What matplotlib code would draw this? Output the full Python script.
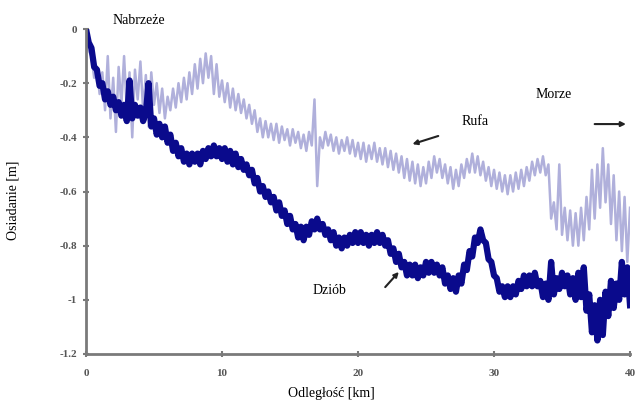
import matplotlib
matplotlib.use("Agg")
import matplotlib.pyplot as plt
import numpy as np

# distance [km], sampled every 0.2 km
distance_km = [round(i * 0.2, 1) for i in range(201)]

# Dziób (bow) settlement [m]
dziob = [
    0.00, -0.05, -0.07, -0.14, -0.15, -0.21, -0.20, -0.26, -0.23, -0.28,
    -0.25, -0.30, -0.27, -0.32, -0.28, -0.34, -0.19, -0.33, -0.28, -0.32,
    -0.29, -0.34, -0.31, -0.20, -0.36, -0.33, -0.39, -0.35, -0.40, -0.36,
    -0.42, -0.39, -0.45, -0.42, -0.47, -0.44, -0.49, -0.46, -0.50, -0.46,
    -0.49, -0.46, -0.50, -0.45, -0.48, -0.44, -0.47, -0.43, -0.47, -0.44,
    -0.48, -0.44, -0.49, -0.45, -0.50, -0.46, -0.51, -0.48, -0.52, -0.50,
    -0.54, -0.52, -0.57, -0.55, -0.60, -0.58, -0.62, -0.60, -0.64, -0.62,
    -0.67, -0.64, -0.69, -0.67, -0.72, -0.69, -0.74, -0.72, -0.77, -0.73,
    -0.78, -0.73, -0.76, -0.71, -0.74, -0.70, -0.74, -0.72, -0.76, -0.74,
    -0.78, -0.75, -0.80, -0.77, -0.81, -0.77, -0.80, -0.76, -0.79, -0.75,
    -0.79, -0.75, -0.79, -0.76, -0.80, -0.76, -0.79, -0.75, -0.79, -0.76,
    -0.80, -0.78, -0.83, -0.81, -0.86, -0.83, -0.88, -0.86, -0.91, -0.87,
    -0.91, -0.87, -0.92, -0.88, -0.91, -0.86, -0.90, -0.86, -0.90, -0.87,
    -0.91, -0.88, -0.94, -0.91, -0.96, -0.92, -0.97, -0.91, -0.94, -0.87,
    -0.89, -0.82, -0.84, -0.77, -0.79, -0.74, -0.78, -0.79, -0.85, -0.86,
    -0.91, -0.92, -0.97, -0.95, -0.99, -0.95, -0.99, -0.95, -0.98, -0.93,
    -0.96, -0.91, -0.95, -0.91, -0.95, -0.90, -0.95, -0.93, -0.99, -0.94,
    -1.00, -0.86, -0.98, -0.92, -0.96, -0.90, -0.95, -0.91, -0.98, -0.92,
    -1.00, -0.90, -0.99, -0.88, -1.04, -0.98, -1.12, -1.02, -1.15, -1.00,
    -1.13, -0.97, -1.06, -0.93, -1.03, -0.94, -1.00, -0.86, -0.98, -0.88,
    -1.02,
]

# Rufa (stern) settlement [m]
rufa = [
    0.00, -0.08, -0.10, -0.18, -0.14, -0.24, -0.16, -0.30, -0.10, -0.33,
    -0.18, -0.38, -0.14, -0.28, -0.10, -0.30, -0.16, -0.40, -0.15, -0.26,
    -0.12, -0.30, -0.17, -0.36, -0.16, -0.28, -0.20, -0.31, -0.22, -0.33,
    -0.25, -0.30, -0.22, -0.29, -0.20, -0.27, -0.18, -0.26, -0.16, -0.24,
    -0.13, -0.22, -0.11, -0.20, -0.09, -0.18, -0.10, -0.24, -0.13, -0.25,
    -0.19, -0.27, -0.20, -0.29, -0.22, -0.30, -0.24, -0.31, -0.26, -0.33,
    -0.28, -0.35, -0.30, -0.38, -0.33, -0.40, -0.34, -0.40, -0.35, -0.41,
    -0.35, -0.42, -0.36, -0.41, -0.37, -0.43, -0.37, -0.42, -0.38, -0.44,
    -0.39, -0.45, -0.38, -0.43, -0.26, -0.58, -0.40, -0.44, -0.38, -0.43,
    -0.39, -0.45, -0.40, -0.46, -0.41, -0.45, -0.40, -0.46, -0.41, -0.47,
    -0.42, -0.48, -0.42, -0.49, -0.43, -0.48, -0.42, -0.49, -0.44, -0.50,
    -0.44, -0.51, -0.45, -0.52, -0.46, -0.53, -0.47, -0.55, -0.48, -0.56,
    -0.49, -0.57, -0.50, -0.58, -0.51, -0.57, -0.49, -0.55, -0.47, -0.53,
    -0.48, -0.55, -0.50, -0.57, -0.51, -0.59, -0.52, -0.58, -0.50, -0.55,
    -0.48, -0.53, -0.46, -0.53, -0.47, -0.54, -0.49, -0.56, -0.51, -0.58,
    -0.52, -0.59, -0.53, -0.60, -0.54, -0.61, -0.54, -0.60, -0.53, -0.59,
    -0.52, -0.58, -0.51, -0.56, -0.49, -0.54, -0.48, -0.53, -0.47, -0.54,
    -0.50, -0.70, -0.64, -0.74, -0.50, -0.76, -0.66, -0.78, -0.67, -0.80,
    -0.68, -0.80, -0.66, -0.78, -0.62, -0.74, -0.52, -0.70, -0.50, -0.66,
    -0.44, -0.64, -0.50, -0.72, -0.54, -0.78, -0.60, -0.82, -0.62, -0.86,
    -0.66,
]

x_ticks = [0, 10, 20, 30, 40]
y_ticks = [0, -0.2, -0.4, -0.6, -0.8, -1.0, -1.2]
y_tick_labels = ["0", "-0.2", "-0.4", "-0.6", "-0.8", "-1", "-1.2"]

serif = ["Liberation Serif", "DejaVu Serif"]
axis_grey = "#7a7a7a"

fig = plt.figure(figsize=(6.38, 4.03), dpi=100)
ax = fig.add_axes([0.1348, 0.1216, 0.8527, 0.8064])

ax.plot(distance_km, rufa, color="#b0b0db", lw=1.8, zorder=2,
        solid_joinstyle="round")
ax.plot(distance_km, dziob, color="#0a0a8c", lw=4.5, zorder=3,
        solid_joinstyle="round")

ax.set_xlim(0, 40)
ax.set_ylim(-1.2, 0)
ax.set_xticks(x_ticks)
ax.set_xticklabels([str(t) for t in x_ticks])
ax.set_yticks(y_ticks)
ax.set_yticklabels(y_tick_labels)

for s in ["top", "right"]:
    ax.spines[s].set_visible(False)
for s in ["left", "bottom"]:
    ax.spines[s].set_color(axis_grey)
    ax.spines[s].set_linewidth(2.0)
    ax.spines[s].set_zorder(4)

ax.tick_params(axis="both", direction="inout", length=5, width=1.5,
               color=axis_grey, labelcolor="#555555", labelsize=8)
ax.tick_params(axis="x", pad=8)
ax.tick_params(axis="y", pad=4)
for lab in ax.get_xticklabels() + ax.get_yticklabels():
    lab.set_fontfamily(serif)
    lab.set_fontweight("bold")

fig.text(331 / 638, 1 - 394 / 403, "Odległość [km]", family=serif,
         fontsize=10, ha="center", va="center")
fig.text(13 / 638, 1 - 200 / 403, "Osiadanie [m]", family=serif,
         fontsize=10, ha="center", va="center", rotation=90)

box = dict(facecolor="white", edgecolor="none", pad=3)
ax.text(3.9, 0.03, "Nabrzeże", family=serif, fontsize=10, ha="center",
        va="center", clip_on=False, zorder=5,
        bbox=dict(facecolor="white", edgecolor="none", pad=6))
ax.text(28.6, -0.343, "Rufa", family=serif, fontsize=10, ha="center",
        va="center", zorder=5, bbox=box)
ax.text(34.4, -0.24, "Morze", family=serif, fontsize=10, ha="center",
        va="center", zorder=5, bbox=box)
ax.text(17.9, -0.964, "Dziób", family=serif, fontsize=10, ha="center",
        va="center", zorder=5, bbox=box)

arrow = dict(arrowstyle="-|>", color="#222222", lw=1.5, mutation_scale=7,
             shrinkA=0, shrinkB=0)
ax.annotate("", xy=(24.0, -0.425), xytext=(25.9, -0.395), arrowprops=arrow, zorder=6)
ax.annotate("", xy=(39.7, -0.351), xytext=(37.4, -0.351), arrowprops=arrow, zorder=6)
ax.annotate("", xy=(23.0, -0.897), xytext=(22.0, -0.953), arrowprops=arrow, zorder=6)

fig.savefig("out.png", dpi=100)
